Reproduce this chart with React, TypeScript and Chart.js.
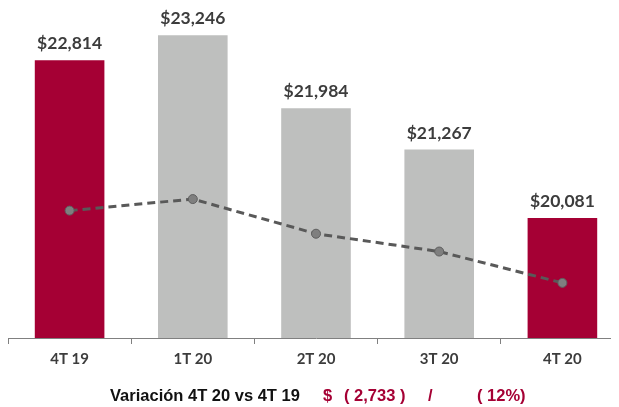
import React, { useEffect, useRef } from "react";
import { Chart, registerables } from "chart.js";

Chart.register(...registerables);

const categories = ["4T 19", "1T 20", "2T 20", "3T 20", "4T 20"];
const revenue = [22814, 23246, 21984, 21267, 20081];
const trendIndex = [38.6, 42.1, 31.6, 26.2, 16.7];
const barColors = ["#a50034", "#bebfbe", "#bebfbe", "#bebfbe", "#a50034"];

const footerLabel = "Variación 4T 20 vs 4T 19";
const footerParts = ["$", "( 2,733 )", "/", "( 12%)"];

const RED = "#a50034";
const TEXT = "#3c3c3c";

const fmt = (v: number) => "$" + v.toLocaleString("en-US");

const labelPlugin = {
  id: "barLabels",
  afterDatasetsDraw(chart: any) {
    const ctx = chart.ctx;
    const meta = chart.getDatasetMeta(1);
    ctx.save();
    ctx.font = "bold 17.5px Lato, 'Open Sans', sans-serif";
    ctx.fillStyle = TEXT;
    ctx.textAlign = "center";
    ctx.textBaseline = "alphabetic";
    meta.data.forEach((el: any, i: number) => {
      ctx.fillText(fmt(revenue[i]), el.x, el.y - 11);
    });
    ctx.restore();
  },
  afterDraw(chart: any) {
    const ctx = chart.ctx;
    ctx.save();
    ctx.textBaseline = "alphabetic";
    ctx.textAlign = "left";
    const y = 393;
    ctx.font = "bold 16.5px 'Liberation Sans Narrow', 'Arial Narrow', 'Liberation Sans', sans-serif";
    ctx.fillStyle = "#111111";
    ctx.fillText(footerLabel, 102, y);
    ctx.fillStyle = RED;
    const xs = [315, 336, 420, 469];
    footerParts.forEach((p, i) => ctx.fillText(p, xs[i], y));
    ctx.restore();
  },
};

export default function App() {
  const ref = useRef<HTMLCanvasElement>(null);
  useEffect(() => {
    document.documentElement.style.overflow = "hidden";
    const chart = new Chart(ref.current!, {
      type: "bar",
      data: {
        labels: categories,
        datasets: [
          {
            type: "line",
            data: trendIndex,
            yAxisID: "y2",
            borderColor: "#595959",
            borderWidth: 3,
            borderDash: [8, 5],
            pointRadius: 4.5,
            pointBackgroundColor: "#7f7f7f",
            pointBorderColor: "#5f5f5f",
            pointBorderWidth: 1,
            fill: false,
            tension: 0,
            order: 0,
          } as any,
          {
            type: "bar",
            data: revenue,
            yAxisID: "y",
            backgroundColor: barColors,
            categoryPercentage: 1,
            barPercentage: 0.565,
            order: 1,
          },
        ],
      },
      options: {
        animation: false,
        responsive: true,
        maintainAspectRatio: false,
        layout: { padding: 0, autoPadding: false },
        plugins: {
          legend: { display: false },
          tooltip: { enabled: false },
        },
        scales: {
          x: {
            grid: {
              display: true,
              drawOnChartArea: false,
              drawTicks: true,
              tickLength: 6,
              color: "#808080",
              offset: true,
            },
            border: { display: true, color: "#808080", width: 1 },
            ticks: {
              color: TEXT,
              font: { family: "Lato, 'Open Sans', sans-serif", size: 15, weight: "bold" },
              padding: 6,
              maxRotation: 0,
            },
            afterFit: (scale: any) => {
              scale.height = 69;
            },
          },
          y: { display: false, min: 18000, max: 23720 },
          y2: { display: false, min: 0, max: 100 },
        },
      },
      plugins: [labelPlugin],
    });
    return () => chart.destroy();
  }, []);
  return (
    <div style={{ width: 616, height: 399, position: "relative" }}>
      <canvas ref={ref} />
    </div>
  );
}
